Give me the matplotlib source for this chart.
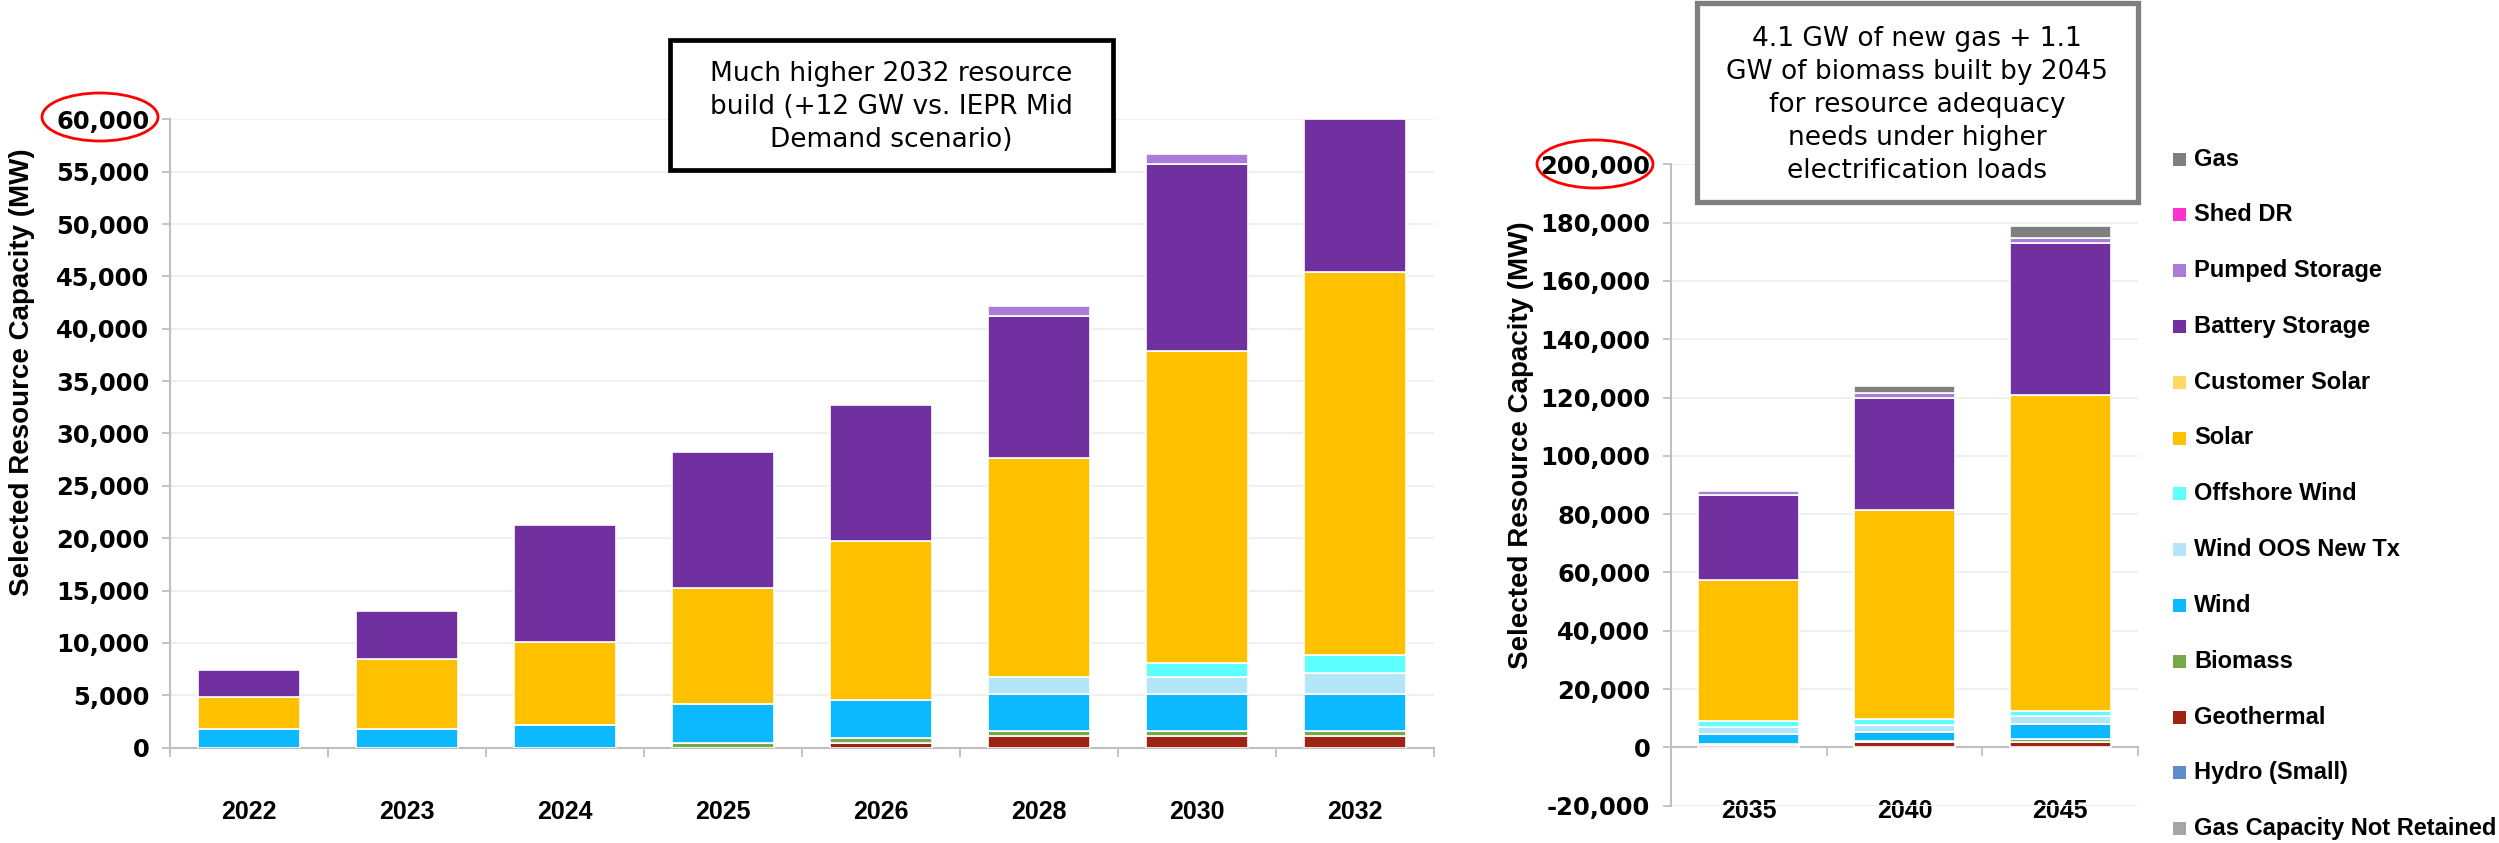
import matplotlib.pyplot as plt
from matplotlib.patches import Rectangle, Ellipse
from matplotlib.ticker import FuncFormatter
import numpy as np

plt.rcParams['font.family'] = ['Liberation Sans', 'DejaVu Sans']

W, H = 2499, 843

# Stack order, bottom to top
series = ["Gas Capacity Not Retained", "Hydro (Small)", "Geothermal", "Biomass", "Wind",
          "Wind OOS New Tx", "Offshore Wind", "Solar", "Customer Solar",
          "Battery Storage", "Pumped Storage", "Shed DR", "Gas"]
colors = ["#A5A5A5", "#5F8DCB", "#9E2314", "#77A94A", "#0DB9FE",
          "#B4E6FA", "#5EFFFF", "#FFC000", "#FFD966",
          "#7030A0", "#AB7BD9", "#FF33CC", "#7F7F7F"]

# Near-term build (MW)
years_near = ["2022", "2023", "2024", "2025", "2026", "2028", "2030", "2032"]
gas_not_retained_near = [0, 0, 0, 0, 0, 0, 0, 0]
hydro_near = [0, 0, 0, 0, 0, 0, 0, 0]
geothermal_near = [0, 0, 0, 0, 450, 1100, 1100, 1100]
biomass_near = [0, 0, 0, 450, 500, 450, 450, 450]
wind_near = [1750, 1800, 2150, 3700, 3550, 3550, 3550, 3550]
wind_oos_near = [0, 0, 0, 0, 0, 1600, 1600, 2000]
offshore_near = [0, 0, 0, 0, 0, 0, 1400, 1750]
solar_near = [3050, 6650, 7900, 11050, 15200, 21000, 29800, 36550]
customer_solar_near = [0, 0, 0, 0, 0, 0, 0, 0]
battery_near = [2650, 4600, 11250, 13000, 13000, 13500, 17850, 14600]
pumped_near = [0, 0, 0, 0, 0, 950, 950, 0]
shed_dr_near = [0, 0, 0, 0, 0, 0, 0, 0]
gas_near = [0, 0, 0, 0, 0, 0, 0, 0]

# Long-term build (MW)
years_far = ["2035", "2040", "2045"]
gas_not_retained_far = [0, 0, 0]
hydro_far = [0, 0, 0]
geothermal_far = [700, 1700, 1900]
biomass_far = [300, 300, 1100]
wind_far = [3600, 3400, 4900]
wind_oos_far = [2300, 2300, 2800]
offshore_far = [2100, 2000, 1700]
solar_far = [48500, 71600, 108500]
customer_solar_far = [0, 0, 0]
battery_far = [29100, 38500, 52200]
pumped_far = [1200, 1700, 1700]
shed_dr_far = [0, 0, 0]
gas_far = [0, 2400, 4100]

near = [gas_not_retained_near, hydro_near, geothermal_near, biomass_near, wind_near,
        wind_oos_near, offshore_near, solar_near, customer_solar_near,
        battery_near, pumped_near, shed_dr_near, gas_near]
far = [gas_not_retained_far, hydro_far, geothermal_far, biomass_far, wind_far,
       wind_oos_far, offshore_far, solar_far, customer_solar_far,
       battery_far, pumped_far, shed_dr_far, gas_far]

AXIS_GRAY = "#BFBFBF"


def draw_stack(ax, years, data):
    x = np.arange(len(years))
    bottom = np.zeros(len(years))
    for color, vals in zip(colors, data):
        vals = np.array(vals, dtype=float)
        m = vals != 0
        if m.any():
            ax.bar(x[m], vals[m], 0.65, bottom=bottom[m], color=color,
                   edgecolor="white", linewidth=1.2, zorder=3)
        bottom += vals
    return x


def style_axes(ax, x, years, pad):
    ax.set_xlim(-0.5, len(years) - 0.5)
    ax.set_xticks(np.arange(-0.5, len(years), 1))
    ax.set_xticklabels([])
    ax.set_xticks(x, minor=True)
    ax.set_xticklabels(years, minor=True, fontsize=18, fontweight="bold")
    ax.tick_params(axis="x", which="major", length=6.5, width=1.3, color=AXIS_GRAY)
    ax.tick_params(axis="x", which="minor", length=0, pad=pad)
    ax.yaxis.set_major_formatter(FuncFormatter(lambda v, p: f"{v:,.0f}"))
    ax.tick_params(axis="y", length=6, width=1.3, color=AXIS_GRAY, pad=9)
    for lab in ax.get_yticklabels():
        lab.set_fontfamily("DejaVu Sans")
        lab.set_fontweight("bold")
        lab.set_fontsize(17.5)
    ax.grid(axis="y", color="#F0F0F0", linewidth=1.5, zorder=0)
    ax.set_axisbelow(True)
    for s in ("top", "right"):
        ax.spines[s].set_visible(False)
    for s in ("left", "bottom"):
        ax.spines[s].set_color(AXIS_GRAY)
        ax.spines[s].set_linewidth(1.5)


fig = plt.figure(figsize=(W / 100, H / 100), dpi=100)

# left panel: 2022-2032
ax1 = fig.add_axes([170 / W, 1 - 747.5 / H, (1434 - 170) / W, (747.5 - 119.5) / H])
x1 = draw_stack(ax1, years_near, near)
ax1.set_ylim(0, 60000)
ax1.set_yticks(np.arange(0, 60001, 5000))
style_axes(ax1, x1, years_near, 38)

# right panel: 2035-2045
ax2 = fig.add_axes([1671 / W, 1 - 805.6 / H, (2138 - 1671) / W, (805.6 - 164.3) / H])
x2 = draw_stack(ax2, years_far, far)
ax2.set_ylim(-20000, 200000)
ax2.set_yticks(np.arange(-20000, 200001, 20000))
ax2.spines["bottom"].set_position(("data", 0))
style_axes(ax2, x2, years_far, 37)

# axis titles
fig.text(22 / W, 1 - 372 / H, "Selected Resource Capacity (MW)", rotation=90,
         ha="center", va="center", fontsize=20, fontweight="bold")
fig.text(1521 / W, 1 - 445 / H, "Selected Resource Capacity (MW)", rotation=90,
         ha="center", va="center", fontsize=20, fontweight="bold")

# red circles around the axis maxima
for cx, cy in [(100, 117), (1595, 164)]:
    fig.add_artist(Ellipse((cx / W, 1 - cy / H), 116 / W, 48 / H, transform=fig.transFigure,
                           fill=False, edgecolor="red", linewidth=2, zorder=5))

# callout boxes
fig.add_artist(Rectangle((670 / W, 1 - 170 / H), (1113 - 670) / W, 130 / H,
                         transform=fig.transFigure, facecolor="white",
                         edgecolor="black", linewidth=3.4, zorder=4))
fig.text(891 / W, 1 - 107 / H,
         "Much higher 2032 resource\nbuild (+12 GW vs. IEPR Mid\nDemand scenario)",
         ha="center", va="center", fontsize=19, family="DejaVu Sans",
         linespacing=1.35, zorder=6)

fig.add_artist(Rectangle((1697 / W, 1 - 202 / H), (2138 - 1697) / W, 199 / H,
                         transform=fig.transFigure, facecolor="white",
                         edgecolor="#7F7F7F", linewidth=3.8, zorder=4))
fig.text(1917 / W, 1 - 105 / H,
         "4.1 GW of new gas + 1.1\nGW of biomass built by 2045\nfor resource adequacy\n"
         "needs under higher\nelectrification loads",
         ha="center", va="center", fontsize=19, family="DejaVu Sans",
         linespacing=1.35, zorder=6)

# legend, top entry is the last stacked series
for i, (name, color) in enumerate(zip(series[::-1], colors[::-1])):
    yc = 159 + i * 55.8
    fig.add_artist(Rectangle((2173 / W, 1 - (yc + 6.5) / H), 13 / W, 13 / H,
                             transform=fig.transFigure, facecolor=color,
                             edgecolor="none", zorder=4))
    fig.text(2194 / W, 1 - yc / H, name, ha="left", va="center",
             fontsize=17, fontweight="bold")

fig.savefig("out.png", dpi=100)
